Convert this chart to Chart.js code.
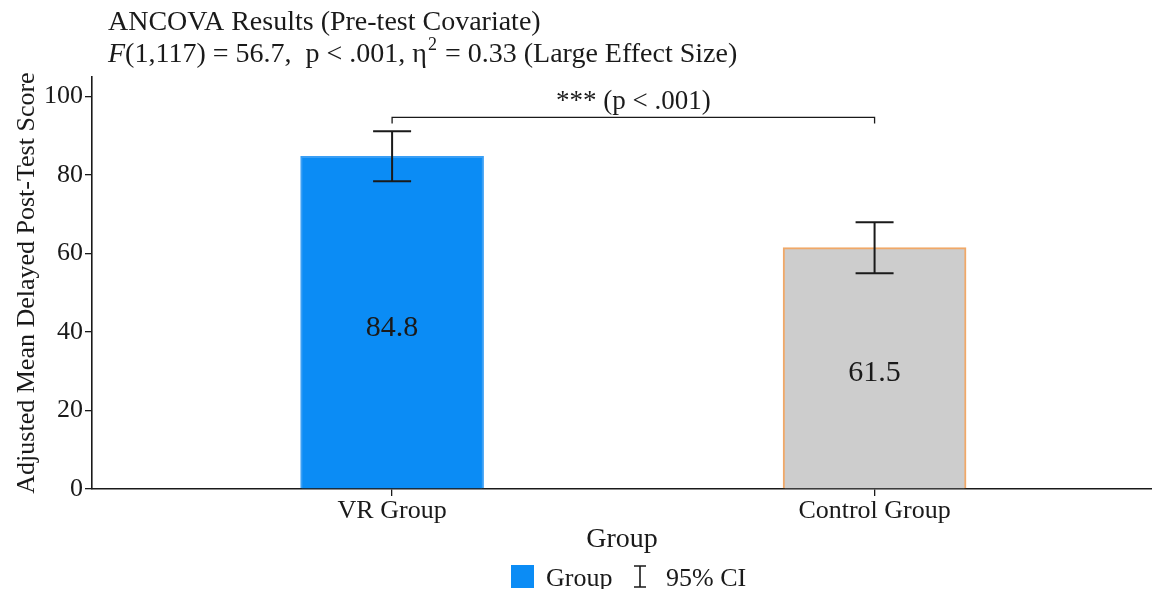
<!DOCTYPE html>
<html>
<head>
<meta charset="utf-8">
<script src="https://cdn.jsdelivr.net/npm/chart.js@4"></script>
<style>
  html, body { margin: 0; padding: 0; background: #fff; }
  #wrap { width: 1152px; height: 589px; }
</style>
</head>
<body>
<div id="wrap"><canvas id="chart"></canvas></div>
<script>
// data
const categories = ['VR Group', 'Control Group'];
const means = [84.8, 61.5];
const ciLow = [78.4, 55.0];
const ciHigh = [91.2, 68.0];
const yTicks = [0, 20, 40, 60, 80, 100];
const sigLabel = '*** (p < .001)';
const sigLevel = 94.7;

const serif = '"Liberation Serif", "Times New Roman", serif';
const ink = '#1a1a1a';

// title, error bars, bracket, value labels and legend
const extras = {
  id: 'extras',
  afterDatasetsDraw(chart) {
    const ctx = chart.ctx;
    const xs = chart.scales.x;
    const ys = chart.scales.y;
    ctx.save();
    ctx.fillStyle = ink;
    ctx.strokeStyle = ink;

    // title
    ctx.textAlign = 'left';
    ctx.textBaseline = 'alphabetic';
    ctx.font = '28px ' + serif;
    ctx.fillText('ANCOVA Results (Pre-test Covariate)', 108, 30);
    let x = 108;
    const y2 = 62;
    ctx.font = 'italic 28px ' + serif;
    ctx.fillText('F', x, y2);
    x += ctx.measureText('F').width;
    ctx.font = '28px ' + serif;
    let s = '(1,117) = 56.7,  p < .001, \u03B7';
    ctx.fillText(s, x, y2);
    x += ctx.measureText(s).width;
    ctx.font = '18px ' + serif;
    ctx.fillText('2', x + 1, y2 - 12);
    x += ctx.measureText('2').width + 2;
    ctx.font = '28px ' + serif;
    ctx.fillText(' = 0.33 (Large Effect Size)', x, y2);

    // error bars
    ctx.lineWidth = 2;
    means.forEach((m, i) => {
      const px = xs.getPixelForValue(i);
      const top = ys.getPixelForValue(ciHigh[i]);
      const bot = ys.getPixelForValue(ciLow[i]);
      ctx.beginPath();
      ctx.moveTo(px, top); ctx.lineTo(px, bot);
      ctx.moveTo(px - 19, top); ctx.lineTo(px + 19, top);
      ctx.moveTo(px - 19, bot); ctx.lineTo(px + 19, bot);
      ctx.stroke();
    });

    // significance bracket
    const bx0 = xs.getPixelForValue(0);
    const bx1 = xs.getPixelForValue(1);
    const by = ys.getPixelForValue(sigLevel);
    ctx.lineWidth = 1.3;
    ctx.beginPath();
    ctx.moveTo(bx0, by + 6); ctx.lineTo(bx0, by);
    ctx.lineTo(bx1, by); ctx.lineTo(bx1, by + 6);
    ctx.stroke();
    ctx.textAlign = 'center';
    ctx.font = '27px ' + serif;
    ctx.fillText(sigLabel, (bx0 + bx1) / 2, by - 8);

    // value labels
    ctx.font = '30px ' + serif;
    ctx.textBaseline = 'middle';
    means.forEach((m, i) => {
      ctx.fillText(m.toFixed(1), xs.getPixelForValue(i), ys.getPixelForValue(m / 2) + 5);
    });

    // legend
    ctx.fillStyle = '#0b8cf5';
    ctx.fillRect(511, 565, 23, 23);
    ctx.fillStyle = ink;
    ctx.textAlign = 'left';
    ctx.textBaseline = 'alphabetic';
    ctx.font = '26px ' + serif;
    ctx.fillText('Group', 546, 586);
    ctx.lineWidth = 1.6;
    ctx.beginPath();
    ctx.moveTo(640, 566); ctx.lineTo(640, 587);
    ctx.moveTo(634, 566); ctx.lineTo(646, 566);
    ctx.moveTo(634, 587); ctx.lineTo(646, 587);
    ctx.stroke();
    ctx.fillText('95% CI', 666, 586);
    ctx.restore();
  }
};

new Chart(document.getElementById('chart'), {
  type: 'bar',
  data: {
    datasets: [{
      label: 'Group',
      data: means.map((m, i) => ({ x: i, y: m })),
      backgroundColor: ['#0b8cf5', '#cdcdcd'],
      borderColor: ['#3a9ff5', '#f0a868'],
      borderWidth: 2,
      barThickness: 183
    }]
  },
  options: {
    responsive: true,
    maintainAspectRatio: false,
    animation: false,
    layout: { padding: { top: 77, right: 0, left: 0, bottom: 0 } },
    plugins: {
      legend: { display: false },
      tooltip: { enabled: false }
    },
    scales: {
      x: {
        type: 'linear',
        offset: false,
        min: -0.622,
        max: 1.575,
        afterBuildTicks: (scale) => {
          scale.ticks = categories.map((c, i) => ({ value: i }));
        },
        afterFit: (scale) => { scale.height = 100; },
        ticks: {
          callback: (v) => categories[v],
          font: { family: serif, size: 26 },
          color: ink,
          padding: 0,
          maxRotation: 0
        },
        grid: { offset: false, drawOnChartArea: false, drawTicks: true, tickLength: 7, color: ink, lineWidth: 1.3 },
        border: { color: ink, width: 1.6 },
        title: {
          display: true,
          text: 'Group',
          font: { family: serif, size: 28 },
          color: ink,
          padding: { top: 0, bottom: 33 }
        }
      },
      y: {
        min: 0,
        max: 105,
        afterBuildTicks: (scale) => {
          scale.ticks = yTicks.map(v => ({ value: v }));
        },
        afterFit: (scale) => { scale.width = 92; },
        ticks: {
          font: { family: serif, size: 26 },
          color: ink,
          padding: 2
        },
        grid: { drawOnChartArea: false, drawTicks: true, tickLength: 7, color: ink, lineWidth: 1.3 },
        border: { color: ink, width: 1.6 },
        title: {
          display: true,
          text: 'Adjusted Mean Delayed Post-Test Score',
          font: { family: serif, size: 26 },
          color: ink,
          padding: { top: 12, bottom: 0 }
        }
      }
    }
  },
  plugins: [extras]
});
</script>
</body>
</html>
